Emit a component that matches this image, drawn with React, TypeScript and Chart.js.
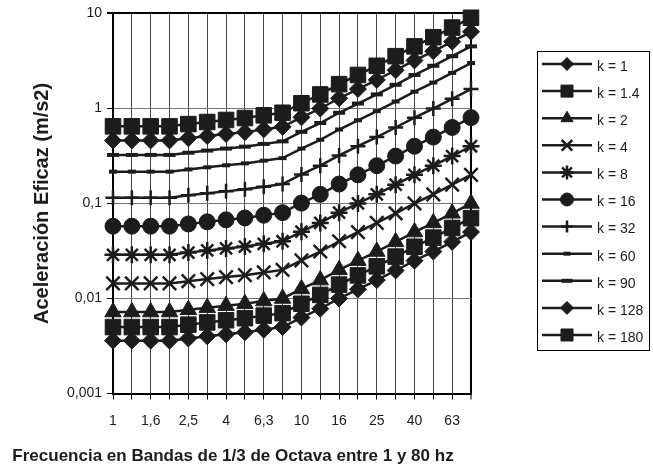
import React, { useEffect, useRef } from "react";
import { Chart, registerables } from "chart.js";
import { drawPoint } from "chart.js/helpers";

Chart.register(...registerables);

const frequencies = ["1", "1,25", "1,6", "2", "2,5", "3,15", "4", "5", "6,3", "8", "10", "12,5", "16", "20", "25", "31,5", "40", "50", "63", "80"];
const shownFreqLabels = ["1", "1,6", "2,5", "4", "6,3", "10", "16", "25", "40", "63"];
const yTickValues = [0.001, 0.01, 0.1, 1, 10];
const yTickLabels = ["0,001", "0,01", "0,1", "1", "10"];

const seriesNames = ["k = 1", "k = 1.4", "k = 2", "k = 4", "k = 8", "k = 16", "k = 32", "k = 60", "k = 90", "k = 128", "k = 180"];

const k1 = [0.0036, 0.0036, 0.0036, 0.0036, 0.0038, 0.0040, 0.0042, 0.0044, 0.0047, 0.0050, 0.0063, 0.0078, 0.0100, 0.0125, 0.0156, 0.0197, 0.0250, 0.0312, 0.0394, 0.0500];
const k1_4 = [0.0050, 0.0050, 0.0050, 0.0050, 0.0053, 0.0056, 0.0059, 0.0062, 0.0066, 0.0070, 0.0088, 0.0109, 0.0140, 0.0175, 0.0218, 0.0276, 0.0350, 0.0437, 0.0552, 0.0700];
const k2 = [0.0072, 0.0072, 0.0072, 0.0072, 0.0076, 0.0080, 0.0084, 0.0088, 0.0094, 0.0100, 0.0126, 0.0156, 0.0200, 0.0250, 0.0312, 0.0394, 0.0500, 0.0624, 0.0788, 0.1000];
const k4 = [0.0144, 0.0144, 0.0144, 0.0144, 0.0152, 0.0160, 0.0168, 0.0176, 0.0188, 0.0200, 0.0252, 0.0312, 0.0400, 0.0500, 0.0624, 0.0788, 0.1000, 0.1248, 0.1576, 0.2000];
const k8 = [0.0288, 0.0288, 0.0288, 0.0288, 0.0304, 0.0320, 0.0336, 0.0352, 0.0376, 0.0400, 0.0504, 0.0624, 0.0800, 0.1000, 0.1248, 0.1576, 0.2000, 0.2496, 0.3152, 0.4000];
const k16 = [0.0576, 0.0576, 0.0576, 0.0576, 0.0608, 0.0640, 0.0672, 0.0704, 0.0752, 0.0800, 0.1008, 0.1248, 0.1600, 0.2000, 0.2496, 0.3152, 0.4000, 0.4992, 0.6304, 0.8000];
const k32 = [0.115, 0.115, 0.115, 0.115, 0.122, 0.128, 0.134, 0.141, 0.150, 0.160, 0.202, 0.250, 0.320, 0.400, 0.499, 0.630, 0.800, 0.998, 1.261, 1.600];
const k60 = [0.216, 0.216, 0.216, 0.216, 0.228, 0.240, 0.252, 0.264, 0.282, 0.300, 0.378, 0.468, 0.600, 0.750, 0.936, 1.182, 1.500, 1.872, 2.364, 3.000];
const k90 = [0.324, 0.324, 0.324, 0.324, 0.342, 0.360, 0.378, 0.396, 0.423, 0.450, 0.567, 0.702, 0.900, 1.125, 1.404, 1.773, 2.250, 2.808, 3.546, 4.500];
const k128 = [0.461, 0.461, 0.461, 0.461, 0.486, 0.512, 0.538, 0.563, 0.602, 0.640, 0.806, 0.998, 1.280, 1.600, 1.997, 2.522, 3.200, 3.994, 5.043, 6.400];
const k180 = [0.648, 0.648, 0.648, 0.648, 0.684, 0.720, 0.756, 0.792, 0.846, 0.900, 1.134, 1.404, 1.800, 2.250, 2.808, 3.546, 4.500, 5.616, 7.092, 9.000];

const seriesValues = [k1, k1_4, k2, k4, k8, k16, k32, k60, k90, k128, k180];

const markerStyles = [
  { pointStyle: "rectRot", radius: 8.5, borderWidth: 1, legendRadius: 6.5 },
  { pointStyle: "rect", radius: 11, borderWidth: 1, legendRadius: 8.5 },
  { pointStyle: "triangle", radius: 9.5, borderWidth: 1, legendRadius: 7 },
  { pointStyle: "crossRot", radius: 9.5, borderWidth: 2.5, legendRadius: 7.5 },
  { pointStyle: "star", radius: 8.5, borderWidth: 2.5, legendRadius: 7 },
  { pointStyle: "circle", radius: 8, borderWidth: 1, legendRadius: 6.5 },
  { pointStyle: "cross", radius: 7.5, borderWidth: 2.5, legendRadius: 6 },
  { pointStyle: "line", radius: 4, borderWidth: 4, legendRadius: 3.5 },
  { pointStyle: "line", radius: 6, borderWidth: 4, legendRadius: 5.5 },
  { pointStyle: "rectRot", radius: 8.5, borderWidth: 1, legendRadius: 6.5 },
  { pointStyle: "rect", radius: 11, borderWidth: 1, legendRadius: 8.5 },
];

const INK = "#1d1b1c";
const FONT = "Arial, 'Liberation Sans', Helvetica, sans-serif";
const xTitle = "Frecuencia en Bandas de 1/3 de Octava entre 1 y 80 hz";
const yTitle = "Aceleración Eficaz (m/s2)";

const extrasPlugin = {
  id: "extras",
  afterDraw(chart: any) {
    const ctx = chart.ctx;
    ctx.save();
    ctx.fillStyle = INK;
    ctx.font = `bold 17px ${FONT}`;
    ctx.textAlign = "center";
    ctx.textBaseline = "middle";
    ctx.fillText(xTitle, 233, 456);

    ctx.strokeStyle = "#000";
    ctx.lineWidth = 1;
    ctx.strokeRect(537.5, 51.5, 112, 299);
    ctx.font = `14px ${FONT}`;
    ctx.textAlign = "left";
    seriesNames.forEach((name, i) => {
      const y = 64 + i * 27.1;
      ctx.strokeStyle = INK;
      ctx.lineWidth = 2.5;
      ctx.beginPath();
      ctx.moveTo(542, y);
      ctx.lineTo(592, y);
      ctx.stroke();
      const m = markerStyles[i];
      ctx.fillStyle = INK;
      ctx.strokeStyle = INK;
      ctx.lineWidth = m.borderWidth;
      drawPoint(ctx, { pointStyle: m.pointStyle, radius: m.legendRadius, rotation: 0, borderWidth: m.borderWidth }, 567, y);
      ctx.fillStyle = INK;
      ctx.fillText(name, 597, y + 3);
    });
    ctx.restore();
  },
};

export default function App() {
  const ref = useRef<HTMLCanvasElement | null>(null);
  useEffect(() => {
    if (!ref.current) return;
    const datasets = seriesNames.map((name, i) => ({
      label: name,
      data: seriesValues[i],
      borderColor: INK,
      backgroundColor: INK,
      borderWidth: 2.5,
      pointStyle: markerStyles[i].pointStyle,
      pointRadius: markerStyles[i].radius,
      pointBorderWidth: markerStyles[i].borderWidth,
      pointBackgroundColor: INK,
      pointBorderColor: INK,
      tension: 0,
      clip: false as any,
    }));
    const lastIdx = frequencies.length - 1;
    const chart = new Chart(ref.current, {
      type: "line",
      data: { labels: frequencies, datasets },
      options: {
        animation: false,
        responsive: false,
        devicePixelRatio: 1,
        layout: { padding: { top: 12.5, right: 182, left: 0, bottom: 0 } },
        plugins: { legend: { display: false }, tooltip: { enabled: false } },
        scales: {
          x: {
            type: "category",
            offset: false,
            grid: {
              offset: false,
              color: (c: any) => (c.index === lastIdx ? "#000" : "#444"),
              lineWidth: (c: any) => (c.index === lastIdx ? 2 : 1),
              tickLength: 6,
              tickColor: "#000",
              tickWidth: 1,
            },
            border: { color: "#000", width: 2 },
            ticks: {
              autoSkip: false,
              maxRotation: 0,
              minRotation: 0,
              color: INK,
              padding: 13,
              font: { size: 14, family: FONT },
              callback: (_v: any, i: number) => (i % 2 === 0 ? shownFreqLabels[i / 2] : ""),
            },
            afterFit: (s: any) => {
              s.height = 80.5;
            },
          },
          y: {
            type: "logarithmic",
            min: 0.001,
            max: 10,
            afterBuildTicks: (s: any) => {
              s.ticks = yTickValues.map((v) => ({ value: v }));
            },
            grid: {
              color: (c: any) => (c.tick && c.tick.value === 10 ? "#000" : "#777"),
              lineWidth: (c: any) => (c.tick && c.tick.value === 10 ? 2 : 1),
              tickLength: 6,
              tickColor: "#000",
            },
            border: { color: "#000", width: 2 },
            ticks: {
              color: INK,
              padding: 5,
              font: { size: 14, family: FONT },
              callback: (v: any) => {
                const idx = yTickValues.indexOf(Number(v));
                return idx >= 0 ? yTickLabels[idx] : "";
              },
            },
            title: {
              display: true,
              text: yTitle,
              color: INK,
              font: { size: 20, weight: "bold", family: FONT },
              padding: { top: 30, bottom: 0 },
            },
            afterFit: (s: any) => {
              s.width = 113;
            },
          },
        },
      },
      plugins: [extrasPlugin],
    });
    return () => chart.destroy();
  }, []);
  return (
    <div style={{ position: "fixed", left: 0, top: 0, width: 653, height: 474, background: "#fff" }}>
      <canvas ref={ref} width={653} height={474} style={{ width: 653, height: 474 }} />
    </div>
  );
}
